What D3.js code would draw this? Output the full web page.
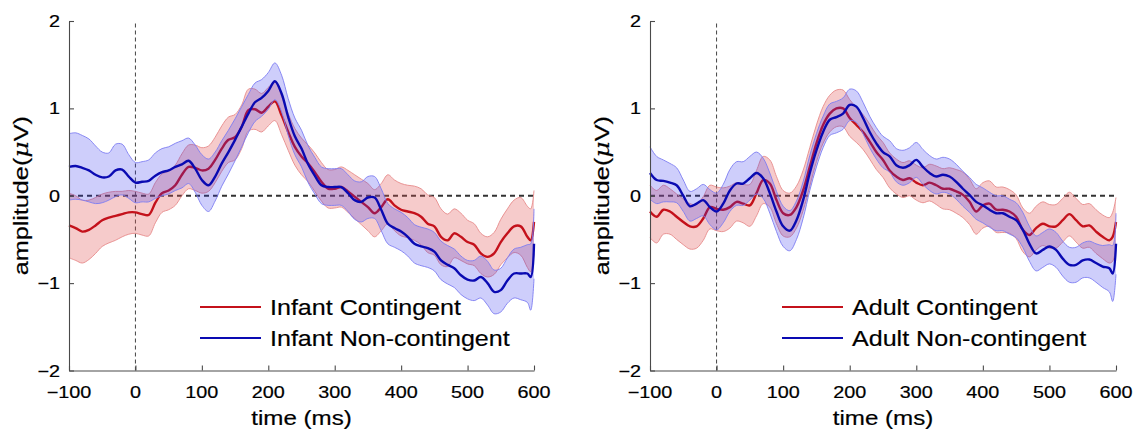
<!DOCTYPE html>
<html>
<head>
<meta charset="utf-8">
<script src="https://cdn.jsdelivr.net/npm/d3@7"></script>
<style>
  body { margin: 0; background: #fff; }
  svg { display: block; }
  text { font-family: "Liberation Sans", Arial, Helvetica, sans-serif; fill: #000; stroke: #000; stroke-width: 0.2px; }
</style>
</head>
<body>
<div id="chart"></div>
<script>
// time (ms)
const times = [-100,-90,-80,-70,-60,-50,-40,-30,-20,-10,
  0,10,20,30,40,50,60,70,80,90,
  100,110,120,130,140,150,160,170,180,190,
  200,210,220,230,240,250,260,270,280,290,
  300,310,320,330,340,350,360,370,380,390,
  400,410,420,430,440,450,460,470,480,490,
  500,510,520,530,540,550,560,570,580,590,
  595,600]

// infant contingent: mean and half band
const infCon = [-0.34,-0.37,-0.41,-0.39,-0.34,-0.28,-0.25,-0.23,-0.21,-0.19,
  -0.19,-0.21,-0.22,-0.08,0.03,0.06,0.12,0.24,0.33,0.32,
  0.29,0.31,0.41,0.54,0.64,0.67,0.79,0.98,0.99,0.95,
  1.02,1.08,0.92,0.73,0.56,0.45,0.37,0.27,0.16,0.08,
  0.08,0.10,0.05,-0.01,-0.07,-0.13,-0.20,-0.13,-0.04,-0.11,
  -0.16,-0.18,-0.20,-0.24,-0.32,-0.35,-0.47,-0.51,-0.43,-0.47,
  -0.53,-0.56,-0.66,-0.70,-0.66,-0.53,-0.43,-0.35,-0.35,-0.47,
  -0.51,-0.30]
const infConSE = [.37,.37,.36,.34,.32,.30,.29,.28,.26,.25,
  .24,.24,.24,.23,.22,.22,.23,.24,.25,.26,
  .26,.26,.26,.26,.26,.26,.25,.24,.23,.22,
  .22,.22,.22,.21,.21,.21,.21,.22,.22,.22,
  .22,.23,.24,.25,.26,.27,.27,.27,.28,.29,
  .30,.30,.31,.32,.33,.33,.32,.30,.28,.27,
  .25,.24,.23,.23,.24,.26,.28,.30,.33,.35,
  .36,.36]

// infant non-contingent
const infNon = [0.33,0.34,0.32,0.29,0.24,0.21,0.22,0.29,0.30,0.22,
  0.15,0.16,0.17,0.23,0.27,0.29,0.33,0.36,0.40,0.31,
  0.18,0.12,0.22,0.37,0.50,0.64,0.79,0.94,1.07,1.12,
  1.20,1.31,1.17,0.90,0.68,0.54,0.36,0.23,0.12,0.10,
  0.10,0.10,0.03,-0.05,-0.07,-0.02,-0.02,-0.16,-0.32,-0.37,
  -0.41,-0.47,-0.55,-0.58,-0.60,-0.64,-0.74,-0.79,-0.83,-0.91,
  -0.96,-0.97,-0.93,-1.00,-1.10,-1.08,-0.97,-0.89,-0.89,-0.89,
  -0.93,-0.55]
const infNonSE = [.38,.38,.37,.36,.33,.29,.27,.30,.29,.25,
  .23,.23,.24,.26,.27,.27,.27,.27,.26,.27,
  .29,.30,.28,.26,.25,.24,.23,.22,.22,.21,
  .21,.21,.21,.21,.21,.21,.21,.21,.21,.21,
  .21,.21,.21,.22,.23,.24,.24,.24,.23,.22,
  .22,.22,.22,.22,.22,.22,.22,.22,.22,.22,
  .22,.23,.24,.25,.25,.25,.26,.28,.30,.33,
  .38,.40]

// adult contingent
const adCon = [-0.18,-0.24,-0.16,-0.18,-0.24,-0.30,-0.35,-0.35,-0.26,-0.13,
  -0.15,-0.16,-0.13,-0.07,-0.09,-0.11,0.03,0.18,0.14,-0.05,
  -0.20,-0.22,-0.13,0.06,0.33,0.60,0.81,0.94,1.00,1.00,
  0.89,0.81,0.73,0.62,0.50,0.41,0.29,0.22,0.18,0.20,
  0.15,0.12,0.15,0.12,0.08,0.08,0.05,0.01,-0.07,-0.18,
  -0.11,-0.09,-0.16,-0.16,-0.18,-0.24,-0.39,-0.45,-0.37,-0.32,
  -0.35,-0.35,-0.28,-0.21,-0.28,-0.35,-0.34,-0.41,-0.47,-0.51,
  -0.47,-0.30]
const adConSE = [.30,.30,.28,.26,.26,.26,.26,.25,.25,.25,
  .25,.25,.24,.22,.22,.24,.26,.27,.27,.27,
  .26,.25,.24,.23,.22,.21,.21,.21,.21,.21,
  .21,.20,.20,.20,.20,.20,.20,.20,.20,.20,
  .20,.20,.21,.22,.23,.24,.25,.26,.26,.26,
  .26,.26,.26,.26,.25,.25,.25,.25,.25,.25,
  .25,.25,.25,.25,.25,.25,.25,.25,.25,.26,
  .28,.28]

// adult non-contingent
const adNon = [0.26,0.18,0.17,0.15,0.12,0.00,-0.12,-0.09,-0.05,-0.13,
  -0.18,-0.09,0.06,0.14,0.14,0.20,0.26,0.20,0.03,-0.18,
  -0.35,-0.40,-0.28,-0.05,0.26,0.52,0.73,0.87,0.90,0.94,
  1.04,1.02,0.89,0.73,0.60,0.50,0.45,0.35,0.32,0.35,
  0.41,0.33,0.26,0.22,0.24,0.22,0.16,0.08,0.01,-0.07,
  -0.11,-0.16,-0.20,-0.20,-0.24,-0.28,-0.39,-0.55,-0.66,-0.62,
  -0.58,-0.62,-0.72,-0.79,-0.79,-0.74,-0.73,-0.77,-0.81,-0.83,
  -0.89,-0.55]
const adNonSE = [.30,.27,.24,.22,.20,.18,.17,.17,.18,.20,
  .21,.22,.24,.25,.25,.25,.24,.23,.23,.23,
  .23,.23,.22,.21,.20,.19,.18,.18,.18,.18,
  .18,.18,.18,.18,.18,.18,.18,.19,.20,.20,
  .20,.20,.20,.20,.20,.20,.20,.20,.20,.20,
  .20,.20,.20,.20,.20,.20,.20,.20,.20,.20,
  .20,.20,.20,.20,.20,.20,.21,.22,.24,.27,
  .32,.35]

const xTicks = [-100, 0, 100, 200, 300, 400, 500, 600]
const yTicks = [-2, -1, 0, 1, 2]

const width = 1137
const height = 433
const yTop = 21, yBottom = 370.5

const panels = [
  { x0: 69, x1: 534, con: infCon, conSE: infConSE, non: infNon, nonSE: infNonSE,
    names: ['Infant Contingent', 'Infant Non-contingent'] },
  { x0: 650, x1: 1116, con: adCon, conSE: adConSE, non: adNon, nonSE: adNonSE,
    names: ['Adult Contingent', 'Adult Non-contingent'] }
]

const red = '#c4111b', redFill = '#e05252', redEdge = '#e68a8a'
const blue = '#0a0ab2', blueFill = '#3434f0', blueEdge = '#7d7df2'

const svg = d3.select('#chart').append('svg')
  .attr('width', width)
  .attr('height', height)

svg.append('rect').attr('width', width).attr('height', height).attr('fill', '#fff')

const y = d3.scaleLinear().domain([-2, 2]).range([yBottom, yTop])

function addText(g, str, x0, y0, size, kx, anchor, rot) {
  return g.append('text')
    .attr('transform', `translate(${x0},${y0}) rotate(${rot || 0}) scale(${kx},1)`)
    .attr('font-size', size)
    .attr('text-anchor', anchor)
    .text(str)
}

panels.forEach(p => {
  const x = d3.scaleLinear().domain([-100, 600]).range([p.x0, p.x1])
  const g = svg.append('g')

  const rows = (m, s) => times.map((t, i) => ({ t: t, m: m[i], s: s[i] }))
  const area = d3.area().x(d => x(d.t)).y0(d => y(d.m - d.s)).y1(d => y(d.m + d.s))
    .curve(d3.curveCatmullRom)
  const line = d3.line().x(d => x(d.t)).y(d => y(d.m)).curve(d3.curveCatmullRom)
  const upper = d3.line().x(d => x(d.t)).y(d => y(d.m + d.s)).curve(d3.curveCatmullRom)
  const lower = d3.line().x(d => x(d.t)).y(d => y(d.m - d.s)).curve(d3.curveCatmullRom)

  const series = [
    { data: rows(p.con, p.conSE), col: red, fill: redFill, edge: redEdge, op: 0.3 },
    { data: rows(p.non, p.nonSE), col: blue, fill: blueFill, edge: blueEdge, op: 0.24 }
  ]

  // dashed zero lines
  g.append('line')
    .attr('x1', x(-100)).attr('x2', x(600)).attr('y1', y(0)).attr('y2', y(0))
    .attr('stroke', '#333').attr('stroke-width', 1.8).attr('stroke-dasharray', '5,4')
  g.append('line')
    .attr('x1', x(0)).attr('x2', x(0)).attr('y1', y(-2)).attr('y2', y(2))
    .attr('stroke', '#444').attr('stroke-width', 1).attr('stroke-dasharray', '4,3')

  series.forEach(s => {
    g.append('path').attr('d', area(s.data))
      .attr('fill', s.fill).attr('fill-opacity', s.op)
    g.append('path').attr('d', upper(s.data))
      .attr('fill', 'none').attr('stroke', s.edge).attr('stroke-width', 0.9)
    g.append('path').attr('d', lower(s.data))
      .attr('fill', 'none').attr('stroke', s.edge).attr('stroke-width', 0.9)
    g.append('path').attr('d', line(s.data))
      .attr('fill', 'none').attr('stroke', s.col).attr('stroke-width', 2.4)
      .attr('stroke-linejoin', 'round')
  })

  // axes, ticks pointing inward
  const ax = g.append('g').attr('transform', `translate(0,${yBottom})`)
    .call(d3.axisBottom(x).tickValues(xTicks).tickSizeInner(-5).tickSizeOuter(0))
  ax.selectAll('text').remove()
  const ay = g.append('g').attr('transform', `translate(${p.x0},0)`)
    .call(d3.axisLeft(y).tickValues(yTicks).tickSizeInner(-5).tickSizeOuter(0))
  ay.selectAll('text').remove()
  g.selectAll('.domain, .tick line').attr('stroke', '#4a4a4a').attr('stroke-width', 1.1)

  xTicks.forEach(t => {
    addText(g, d3.format('d')(t), x(t), yBottom + 27.5, 16.5, 1.2, 'middle')
  })
  yTicks.forEach(v => {
    addText(g, d3.format('d')(v), p.x0 - 9, y(v) + 6, 16.5, 1.2, 'end')
  })

  addText(g, 'time (ms)', (p.x0 + p.x1) / 2, 425, 21, 1.15, 'middle')
  const yl = addText(g, '', p.x0 - 41, (yTop + yBottom) / 2, 21, 1.2, 'middle', -90)
  yl.append('tspan').text('amplitude(')
  yl.append('tspan').attr('font-style', 'italic').attr('font-family', '"DejaVu Serif", serif').text('μ')
  yl.append('tspan').text('V)')

  // legend
  const lx = p.x1 - 334
  series.forEach((s, i) => {
    const ly = 307 + i * 31
    g.append('line').attr('x1', lx).attr('x2', lx + 61).attr('y1', ly).attr('y2', ly)
      .attr('stroke', s.col).attr('stroke-width', 2.2)
    addText(g, p.names[i], lx + 70, ly + 8, 22.5, 1.115, 'start')
  })
})
</script>
</body>
</html>
